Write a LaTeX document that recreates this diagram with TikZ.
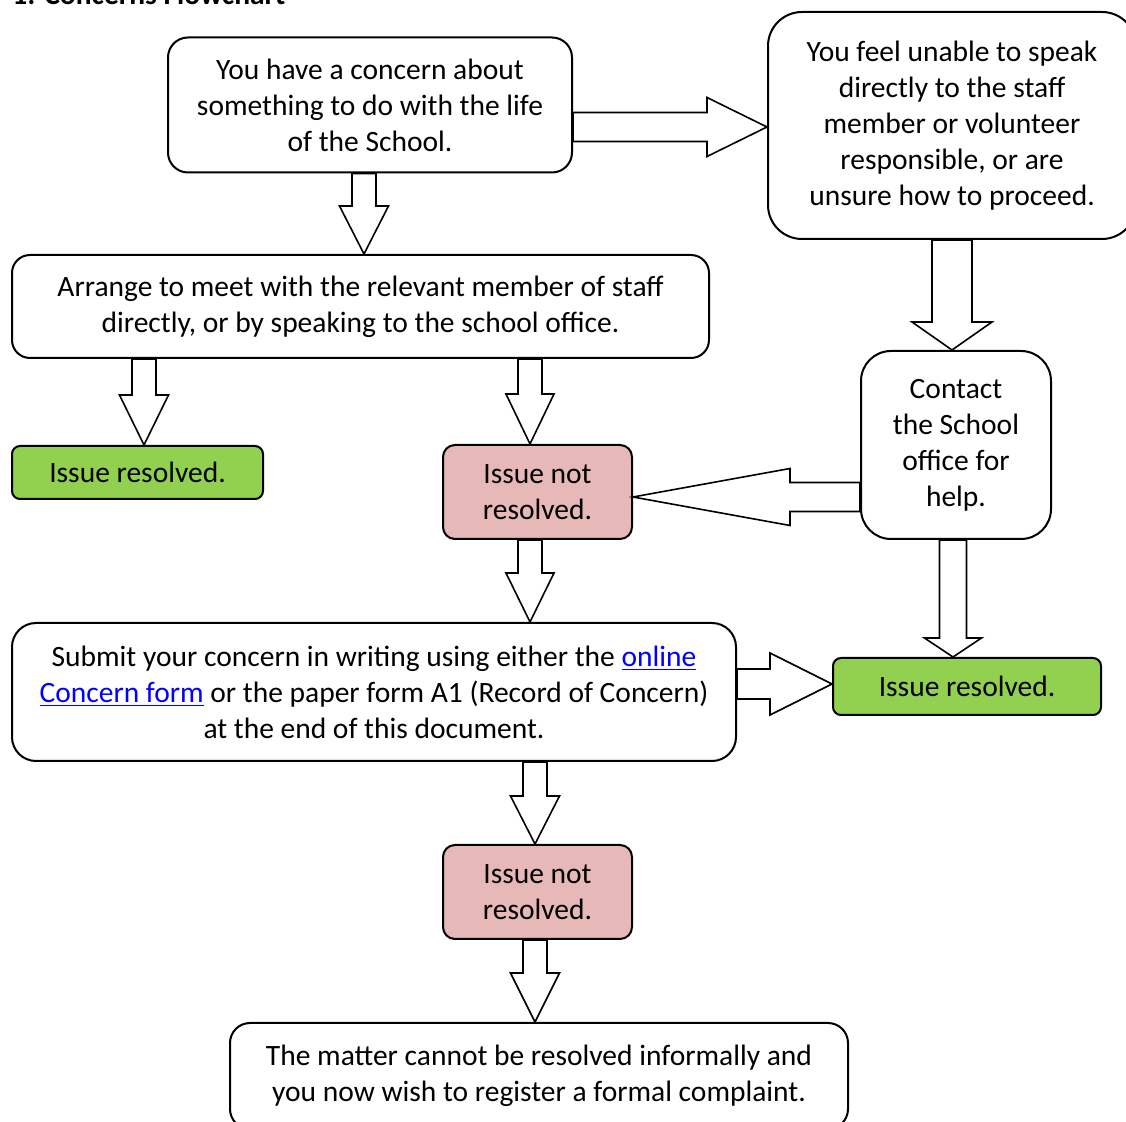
\documentclass[tikz,border=0pt]{standalone}
\usepackage{fontspec}
\setmainfont{Carlito}
\usepackage{tikz}
\usetikzlibrary{calc,positioning}
\definecolor{okgreen}{HTML}{92D050}
\definecolor{notpink}{HTML}{E6B9B8}
\definecolor{linkblue}{HTML}{0000FF}
\tikzset{
  flowbox/.style={draw=black, fill=white, line width=1pt, rounded corners=10pt, align=center, inner sep=0pt, font=\fontsize{14.75}{18}\selectfont},
  resolvedbox/.style={flowbox, fill=okgreen, rounded corners=4pt},
  unresolvedbox/.style={flowbox, fill=notpink, rounded corners=6pt},
  blockarrow/.style={draw=black, fill=white, line width=0.8pt, line join=miter}
}
% block arrow: from, to, half shaft, half head, head length
\newcommand{\blockarrow}[5]{%
  \coordinate (ba-h) at ($#2!#5!#1$);
  \draw[blockarrow] ($#1!#3!90:#2$) -- ($(ba-h)!#3!90:#2$) -- ($(ba-h)!#4!90:#2$) -- #2
    -- ($(ba-h)!#4!-90:#2$) -- ($(ba-h)!#3!-90:#2$) -- ($#1!#3!-90:#2$) -- cycle;
}
\newcommand{\weblink}[1]{\textcolor{linkblue}{\underline{#1}}}

\begin{document}
\begin{tikzpicture}[x=0.5pt, y=-0.5pt]
  \useasboundingbox (0,0) rectangle (1126,1122);
  \node[anchor=base west, font=\fontsize{14.75}{18}\selectfont\bfseries, inner sep=0pt] (title) at (12,5) {1: Concerns Flowchart};

  % boxes
  \node[flowbox, minimum width=202pt, minimum height=67.5pt] (concern) at (370,105)
    {You have a concern about\\something to do with the life\\of the School.};
  \node[flowbox, rounded corners=17pt, minimum width=184pt, minimum height=113.5pt] (unable) at (952,125.5)
    {You feel unable to speak\\directly to the staff\\member or volunteer\\responsible, or are\\unsure how to proceed.};
  \node[flowbox, rounded corners=9pt, minimum width=348.5pt, minimum height=51.5pt] (arrange) at (360.5,306.5)
    {Arrange to meet with the relevant member of staff\\directly, or by speaking to the school office.};
  \node[resolvedbox, minimum width=125.5pt, minimum height=26.5pt] (resolved1) at (137.5,472.5) {Issue resolved.};
  \node[unresolvedbox, minimum width=94.5pt, minimum height=47pt] (notresolved1) at (537.5,492) {Issue not\\resolved.};
  \node[flowbox, rounded corners=15pt, minimum width=95pt, minimum height=94pt] (contact) at (956,445)
    {Contact\\the School\\office for\\help.};
  \node[flowbox, rounded corners=12pt, minimum width=362pt, minimum height=69pt] (submit) at (374,692)
    {Submit your concern in writing using either the \weblink{online}\\\weblink{Concern form} or the paper form A1 (Record of Concern)\\at the end of this document.};
  \node[resolvedbox, minimum width=134pt, minimum height=28.5pt] (resolved2) at (967,686.5) {Issue resolved.};
  \node[unresolvedbox, minimum width=94.5pt, minimum height=47pt] (notresolved2) at (537.5,892) {Issue not\\resolved.};
  \node[flowbox, minimum width=309pt, minimum height=53pt] (matter) at (539,1076)
    {The matter cannot be resolved informally and\\you now wish to register a formal complaint.};

  % arrow ends
  \coordinate (a1) at ([yshift=-11pt]concern.east);
  \coordinate (b1) at ([xshift=-3pt]concern.south);
  \coordinate (c1) at ([xshift=-2pt]contact.north);
  \coordinate (d1) at ([xshift=3.25pt]resolved1.north);
  \coordinate (e1) at ([xshift=-3.75pt]notresolved1.north);
  \coordinate (f1) at ([yshift=-2.5pt]notresolved1.east);
  \coordinate (g1) at ([xshift=-3.75pt]notresolved1.south);
  \coordinate (h1) at ([xshift=-1.5pt]contact.south);
  \coordinate (i1) at ([yshift=1.25pt]resolved2.west);
  \coordinate (j1) at ([xshift=-1.25pt]notresolved2.north);
  \coordinate (k1) at ([xshift=-1.25pt]notresolved2.south);

  % connectors
  \blockarrow{(a1)}{(a1 -| unable.west)}{7.25pt}{14.75pt}{30pt}
  \blockarrow{(b1)}{(b1 |- arrange.north)}{6pt}{12.25pt}{24pt}
  \blockarrow{(c1 |- unable.south)}{(c1)}{10pt}{20pt}{14pt}
  \blockarrow{(d1 |- arrange.south)}{(d1)}{6pt}{12.25pt}{25pt}
  \blockarrow{(e1 |- arrange.south)}{(e1)}{6pt}{12pt}{25pt}
  \blockarrow{(f1 -| contact.west)}{(f1)}{7.25pt}{14.25pt}{78.5pt}
  \blockarrow{(g1)}{(g1 |- submit.north)}{6pt}{12pt}{24.5pt}
  \blockarrow{(h1)}{(h1 |- resolved2.north)}{6.75pt}{14.25pt}{9.5pt}
  \blockarrow{(i1 -| submit.east)}{(i1)}{7.5pt}{15.5pt}{31pt}
  \blockarrow{(j1 |- submit.south)}{(j1)}{6pt}{12.25pt}{24pt}
  \blockarrow{(k1)}{(k1 |- matter.north)}{6pt}{12.25pt}{24.5pt}
\end{tikzpicture}
\end{document}
